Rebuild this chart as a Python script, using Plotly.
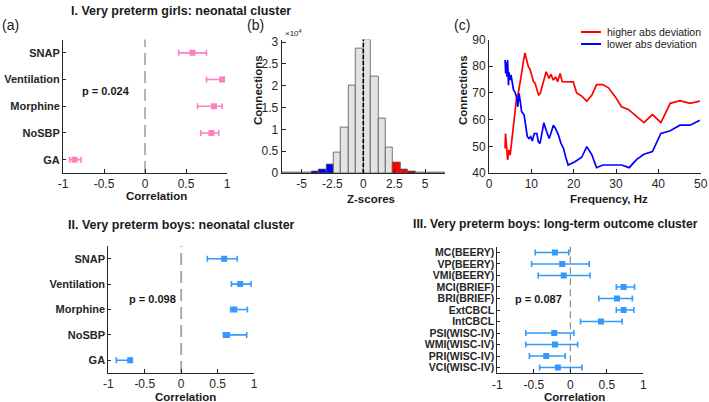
import plotly.graph_objects as go

# ---------------- data ----------------
neonatal_vars = ["SNAP", "Ventilation", "Morphine", "NoSBP", "GA"]
girls_r = [0.58, 0.94, 0.84, 0.81, -0.86]
girls_lo = [0.41, 0.75, 0.64, 0.68, -0.92]
girls_hi = [0.75, 0.96, 0.94, 0.90, -0.78]

boys_r = [0.59, 0.81, 0.73, 0.63, -0.70]
boys_lo = [0.36, 0.69, 0.68, 0.58, -0.89]
boys_hi = [0.77, 0.96, 0.91, 0.90, -0.69]

outcome_vars = ["MC(BEERY)", "VP(BEERY)", "VMI(BEERY)", "MCI(BRIEF)", "BRI(BRIEF)",
                "ExtCBCL", "IntCBCL", "PSI(WISC-IV)", "WMI(WISC-IV)", "PRI(WISC-IV)",
                "VCI(WISC-IV)"]
outcome_r = [-0.21, -0.11, -0.09, 0.73, 0.64, 0.73, 0.42, -0.22, -0.21, -0.33, -0.17]
outcome_lo = [-0.48, -0.53, -0.44, 0.63, 0.39, 0.63, 0.14, -0.61, -0.61, -0.56, -0.42]
outcome_hi = [-0.02, 0.26, 0.27, 0.88, 0.85, 0.87, 0.71, 0.05, 0.10, -0.07, 0.16]

z_centers = [-6.3, -5.7, -5.1, -4.5, -3.9, -3.3, -2.7, -2.1, -1.5, -0.9, -0.3,
             0.3, 0.9, 1.5, 2.1, 2.7, 3.3, 3.9, 4.5, 5.1, 5.7, 6.3]
z_counts = [20, 40, 60, 120, 280, 700, 2000, 4600, 10500, 20000, 28600,
            30500, 22200, 12600, 5800, 2300, 900, 300, 120, 60, 40, 20]

high_hz = [3.8, 3.9, 4.4, 4.7, 5.0, 5.35, 5.75, 6.1, 6.5, 6.9, 7.3, 7.7, 8.1, 8.5, 8.9,
           9.3, 9.7, 10.1, 10.5, 10.9, 11.3, 11.7, 12.1, 12.4, 13.0, 13.5, 14.2, 14.6,
           15.2, 15.75, 16.2, 16.8, 17.3, 18.7, 19.9, 20.7, 21.9, 23.1, 24.3, 25.4,
           26.9, 28.2, 29.8, 31.3, 32.9, 34.5, 36.6, 38.6, 40.6, 42.8, 45.1, 47.5, 49.8]
high_conn = [49.2, 54.8, 44.9, 48.6, 46.7, 52.3, 57.3, 63.5, 67.9, 69.8, 72.9, 77.3, 81.6,
             85.0, 82.3, 79.8, 78.8, 76.1, 74.2, 73.5, 71.7, 69.2, 69.8, 71.7, 74.8, 77.9,
             75.4, 77.0, 74.8, 76.0, 74.2, 77.3, 74.2, 74.2, 74.1, 70.0, 68.8, 66.9, 69.2,
             73.1, 73.1, 71.9, 68.6, 64.8, 63.8, 61.7, 58.9, 61.9, 58.9, 66.1, 67.1, 66.1, 66.9]

low_hz = [3.8, 3.94, 4.1, 4.25, 4.4, 4.6, 4.7, 4.96, 5.2, 5.5, 5.8, 6.1, 6.5, 6.8, 7.1,
          7.4, 7.7, 8.3, 8.7, 9.05, 9.45, 9.85, 10.2, 10.7, 11.3, 11.65, 12.05, 12.4,
          12.95, 13.5, 14.2, 14.6, 15.2, 15.7, 16.4, 17.0, 17.6, 18.1, 18.7, 20.3, 21.9,
          23.1, 24.3, 25.4, 26.9, 31.3, 33.1, 34.9, 36.6, 38.6, 40.6, 42.8, 45.1, 47.5, 49.8]
low_conn = [82.3, 77.3, 81.6, 76.1, 82.3, 72.9, 77.9, 74.8, 76.7, 73.5, 71.0, 70.4, 68.5,
            64.8, 69.8, 66.7, 63.0, 61.7, 57.3, 53.6, 52.9, 53.6, 52.0, 54.8, 54.8, 51.7,
            51.1, 54.8, 58.8, 56.0, 52.9, 54.8, 57.9, 56.7, 54.2, 51.1, 49.2, 46.1, 43.0,
            44.2, 45.9, 49.9, 46.8, 42.0, 43.0, 43.0, 42.0, 45.1, 47.0, 48.0, 54.8, 55.8,
            57.9, 57.9, 59.8]

corr_ticks = [-1, -0.5, 0, 0.5, 1]
corr_ticktext = ["-1", "-0.5", "0", "0.5", "1"]
z_ticks = [-5, -2.5, 0, 2.5, 5]
z_ticktext = ["-5", "-2.5", "0", "2.5", "5"]
count_ticks = [0, 5000, 10000, 15000, 20000, 25000, 30000]
count_ticktext = ["0", "0.5", "1", "1.5", "2", "2.5", "3"]

# ---------------- styling ----------------
W, H = 709, 402
FONT = "Liberation Sans, Arial, Helvetica, sans-serif"
INK = "#262626"
PINK = "#FF80C0"
BLUE = "#3399FF"


def px(x):
    return x / W


def py(y):
    return 1 - y / H


def errbar_trace(vals, lo, hi, cats, color, xa, ya):
    return go.Scatter(
        x=vals, y=cats, mode="markers", xaxis=xa, yaxis=ya, showlegend=False,
        marker=dict(symbol="square", size=6, color=color),
        error_x=dict(type="data", symmetric=False,
                     array=[h - v for h, v in zip(hi, vals)],
                     arrayminus=[v - l for v, l in zip(vals, lo)],
                     color=color, thickness=1.6, width=3),
    )


def bar_color(z):
    if 2.4 < z < 3.6:
        return "#FF0000"
    if 3.6 < z < 4.2:
        return "#B00000"
    if -3.6 < z < -2.4:
        return "#0000FF"
    if -4.2 < z < -3.6:
        return "#000090"
    return "#E3E3E3"


fig = go.Figure()

fig.add_trace(errbar_trace(girls_r, girls_lo, girls_hi, neonatal_vars, PINK, "x", "y"))
fig.add_trace(go.Bar(x=z_centers, y=z_counts, width=0.6, xaxis="x2", yaxis="y2",
                     showlegend=False,
                     marker=dict(color=[bar_color(z) for z in z_centers],
                                 line=dict(color="#555555", width=0.8))))
fig.add_trace(go.Scatter(x=high_hz, y=high_conn, mode="lines", xaxis="x3", yaxis="y3",
                         line=dict(color="#FF0000", width=1.7), showlegend=False))
fig.add_trace(go.Scatter(x=low_hz, y=low_conn, mode="lines", xaxis="x3", yaxis="y3",
                         line=dict(color="#0000FF", width=1.7), showlegend=False))
fig.add_trace(errbar_trace(boys_r, boys_lo, boys_hi, neonatal_vars, BLUE, "x4", "y4"))
fig.add_trace(errbar_trace(outcome_r, outcome_lo, outcome_hi, outcome_vars, BLUE, "x5", "y5"))

axis_common = dict(showline=True, linecolor=INK, linewidth=1, ticks="inside",
                   ticklen=4, tickcolor=INK, showgrid=False, zeroline=False,
                   automargin=False,
                   tickfont=dict(family=FONT, size=12, color=INK), fixedrange=True)


def xax(domain, rng, tv, tt, anchor):
    d = dict(axis_common)
    d.update(domain=domain, range=rng, tickmode="array", tickvals=tv, ticktext=tt,
             anchor=anchor)
    return d


def yax_cat(domain, cats, anchor, size):
    d = dict(axis_common)
    d.update(domain=domain, type="category", categoryorder="array",
             categoryarray=list(reversed(cats)), range=[-0.5, len(cats) - 0.5],
             tickmode="array", tickvals=cats, ticktext=cats,
             anchor=anchor, ticklen=3,
             tickfont=dict(family=FONT, size=size, color=INK, weight="bold"))
    return d


def yax_num(domain, rng, tv, tt, anchor):
    d = dict(axis_common)
    d.update(domain=domain, range=rng, tickmode="array", tickvals=tv, ticktext=tt,
             anchor=anchor)
    return d


top_dom = [py(173), py(39.5)]
fig.update_layout(
    template="none",
    xaxis=xax([px(63), px(227)], [-1, 1], corr_ticks, corr_ticktext, "y"),
    yaxis=yax_cat(top_dom, neonatal_vars, "x", 11),
    xaxis2=xax([px(281.7), px(445)], [-6.6, 6.6], z_ticks, z_ticktext, "y2"),
    yaxis2=yax_num(top_dom, [0, 30600], count_ticks, count_ticktext, "x2"),
    xaxis3=xax([px(489), px(700.7)], [0, 50], [0, 10, 20, 30, 40, 50],
               ["0", "10", "20", "30", "40", "50"], "y3"),
    yaxis3=yax_num(top_dom, [40, 90], [40, 50, 60, 70, 80, 90],
                   ["40", "50", "60", "70", "80", "90"], "x3"),
    xaxis4=xax([px(108.3), px(254)], [-1, 1], corr_ticks, corr_ticktext, "y4"),
    yaxis4=yax_cat([py(373), py(246)], neonatal_vars, "x4", 11),
    xaxis5=xax([px(497.3), px(643.3)], [-1, 1], corr_ticks, corr_ticktext, "y5"),
    yaxis5=yax_cat([py(373.3), py(246.7)], outcome_vars, "x5", 10.5),
)

# zero reference lines
fig.add_shape(type="line", xref="x", yref="y domain", x0=0, x1=0, y0=0, y1=1,
              line=dict(color="#9A9A9A", width=1.5, dash="12px,6px"), layer="below")
fig.add_shape(type="line", xref="x4", yref="y4 domain", x0=0, x1=0, y0=0, y1=1,
              line=dict(color="#A8A8A8", width=2, dash="12px,6px"), layer="below")
fig.add_shape(type="line", xref="x5", yref="y5 domain", x0=0, x1=0, y0=0, y1=1,
              line=dict(color="#777777", width=1, dash="7px,4px"), layer="below")
fig.add_shape(type="line", xref="x2", yref="y2 domain", x0=0, x1=0, y0=0, y1=1,
              line=dict(color="#000000", width=1.5, dash="4px,2px"))

# legend for panel (c)
for y, col in [(32, "#FF0000"), (44, "#0000FF")]:
    fig.add_shape(type="line", xref="paper", yref="paper", x0=px(581), x1=px(601),
                  y0=py(y), y1=py(y), line=dict(color=col, width=2))


def text(x, y, s, size=12, bold=False, xanchor="center", angle=0):
    fig.add_annotation(x=px(x), y=py(y), xref="paper", yref="paper", text=s,
                       showarrow=False, xanchor=xanchor, yanchor="middle",
                       textangle=angle,
                       font=dict(family=FONT, size=size, color="#1a1a1a",
                                 weight="bold" if bold else "normal"))


text(181, 11, "I. Very preterm girls: neonatal cluster", 12.5, True)
text(181, 225, "II. Very preterm boys: neonatal cluster", 12.5, True)
text(555, 224, "III. Very preterm boys: long-term outcome cluster", 12.2, True)
text(0, 25, "(a)", 14, xanchor="left")
text(245, 25, "(b)", 14, xanchor="left")
text(452, 25, "(c)", 14, xanchor="left")
text(80, 91, "p = 0.024", 11, True, xanchor="left")
text(127, 299, "p = 0.098", 11, True, xanchor="left")
text(513, 299, "p = 0.087", 11, True, xanchor="left")
text(156, 196, "Correlation", 11.5, True)
text(185, 396.5, "Correlation", 11.5, True)
text(574, 396.5, "Correlation", 11.5, True)
text(371, 199, "Z-scores", 11.5, True)
text(609, 199, "Frequency, Hz", 11.5, True)
text(258, 90, "Connections", 11.5, True, angle=-90)
text(463, 90, "Connections", 11.5, True, angle=-90)
text(283, 33, "×10<sup>4</sup>", 8, xanchor="left")
text(605, 32, "higher abs deviation", 10.5, xanchor="left")
text(605, 44, "lower abs deviation", 10.5, xanchor="left")

fig.update_layout(width=W, height=H, margin=dict(l=0, r=0, t=0, b=0),
                  paper_bgcolor="white", plot_bgcolor="white", showlegend=False,
                  bargap=0)

fig.write_html("out.html", config={"displayModeBar": False},
               post_script="document.body.style.margin='0';document.body.style.overflow='hidden';")
